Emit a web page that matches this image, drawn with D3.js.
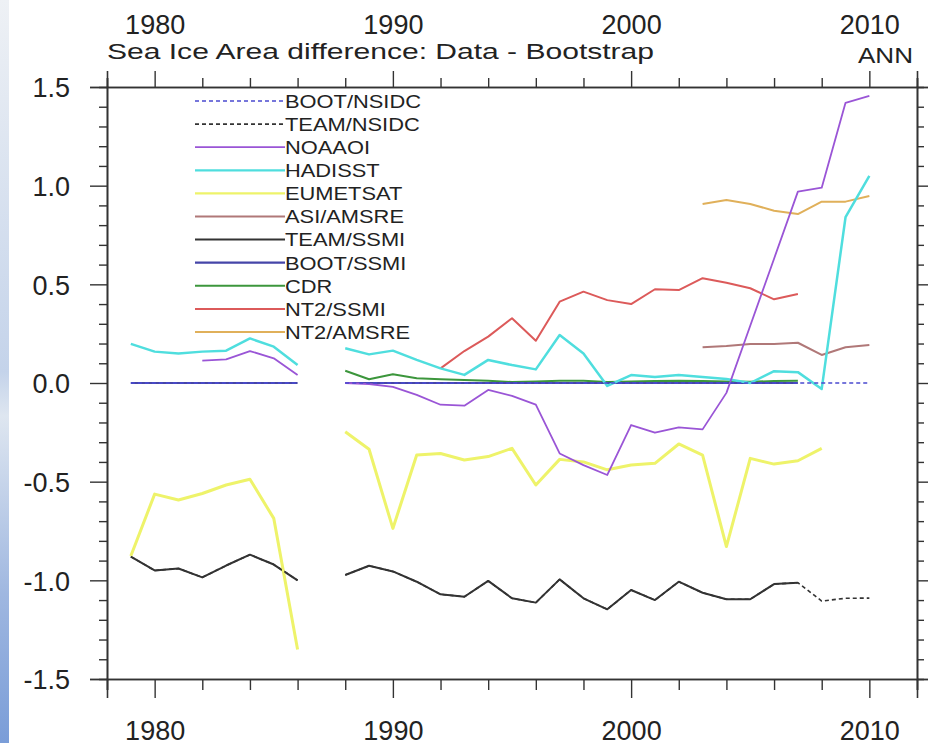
<!DOCTYPE html>
<html>
<head>
<meta charset="utf-8">
<script src="https://cdn.jsdelivr.net/npm/d3@7"></script>
<style>
  body { margin: 0; background: #fff; }
  svg text { font-family: "Liberation Sans", Arial, sans-serif; fill: #222; }
</style>
</head>
<body>
<svg id="svg"></svg>
<script>
// annual sea ice area difference vs Bootstrap, 1979-2010 (1987 missing)
const years = d3.range(1979, 2011);

const bootNsidc = [0, 0, 0, 0, 0, 0, 0, 0, null, 0, 0, 0, 0, 0, 0, 0, 0, 0, 0, 0, 0, 0, 0, 0, 0, 0, 0, 0, 0, 0, 0, 0];
const teamNsidc = [-0.88, -0.95, -0.94, -0.985, -0.925, -0.87, -0.92, -1.0, null,
  -0.973, -0.926, -0.955, -1.007, -1.071, -1.083, -1.003, -1.091, -1.113, -0.995, -1.091, -1.147,
  -1.049, -1.10, -1.007, -1.063, -1.096, -1.096, -1.019, -1.012, -1.105, -1.091, -1.09];
const noaaoi = [null, null, null, 0.113, 0.12, 0.162, 0.125, 0.04, null,
  0.0, -0.005, -0.02, -0.06, -0.11, -0.115, -0.035, -0.065, -0.11, -0.357, -0.416, -0.466,
  -0.213, -0.252, -0.225, -0.235, -0.05, 0.29, 0.63, 0.97, 0.99, 1.42, 1.455];
const hadisst = [0.198, 0.159, 0.15, 0.159, 0.164, 0.226, 0.184, 0.091, null,
  0.176, 0.145, 0.164, 0.117, 0.074, 0.041, 0.117, 0.091, 0.069, 0.243, 0.15, -0.015,
  0.04, 0.03, 0.04, 0.03, 0.02, 0.0, 0.06, 0.055, -0.03, 0.84, 1.05];
const eumetsat = [-0.877, -0.563, -0.593, -0.56, -0.517, -0.488, -0.686, -1.35, null,
  -0.247, -0.336, -0.737, -0.365, -0.357, -0.39, -0.373, -0.331, -0.517, -0.387, -0.40, -0.44,
  -0.416, -0.407, -0.309, -0.365, -0.829, -0.382, -0.411, -0.394, -0.331, null, null];
const asiAmsre = [null, null, null, null, null, null, null, null, null,
  null, null, null, null, null, null, null, null, null, null, null, null,
  null, null, null, 0.181, 0.188, 0.198, 0.198, 0.204, 0.142, 0.181, 0.193];
const teamSsmi = [-0.88, -0.95, -0.94, -0.985, -0.925, -0.87, -0.92, -1.0, null,
  -0.973, -0.926, -0.955, -1.007, -1.071, -1.083, -1.003, -1.091, -1.113, -0.995, -1.091, -1.147,
  -1.049, -1.10, -1.007, -1.063, -1.096, -1.096, -1.019, -1.012, null, null, null];
const bootSsmi = [0, 0, 0, 0, 0, 0, 0, 0, null, 0, 0, 0, 0, 0, 0, 0, 0, 0, 0, 0, 0, 0, 0, 0, 0, 0, 0, 0, 0, null, null, null];
const cdr = [null, null, null, null, null, null, null, null, null,
  0.062, 0.019, 0.044, 0.024, 0.019, 0.015, 0.012, 0.005, 0.008, 0.012, 0.012, 0.005,
  0.008, 0.01, 0.012, 0.01, 0.008, 0.006, 0.01, 0.012, null, null, null];
const nt2Ssmi = [null, null, null, null, null, null, null, null, null,
  null, null, null, null, 0.074, 0.162, 0.235, 0.328, 0.214, 0.412, 0.463, 0.42,
  0.40, 0.475, 0.471, 0.531, 0.508, 0.48, 0.424, 0.451, null, null, null];
const nt2Amsre = [null, null, null, null, null, null, null, null, null,
  null, null, null, null, null, null, null, null, null, null, null, null,
  null, null, null, 0.907, 0.927, 0.907, 0.873, 0.856, 0.919, 0.919, 0.948];

const seriesNames = ['BOOT/NSIDC', 'TEAM/NSIDC', 'NOAAOI', 'HADISST', 'EUMETSAT', 'ASI/AMSRE',
  'TEAM/SSMI', 'BOOT/SSMI', 'CDR', 'NT2/SSMI', 'NT2/AMSRE'];
const seriesValues = [bootNsidc, teamNsidc, noaaoi, hadisst, eumetsat, asiAmsre,
  teamSsmi, bootSsmi, cdr, nt2Ssmi, nt2Amsre];
const seriesColors = ['#4a4ad0', '#333333', '#9a55d6', '#4fdede', '#eef36a', '#b07878',
  '#333333', '#4545a8', '#3c963c', '#dc5a5a', '#e0b05a'];
const seriesDashed = [true, true, false, false, false, false, false, false, false, false, false];
const seriesWidth = [1.6, 1.6, 1.8, 2.5, 3, 2, 2, 2.2, 2, 2, 2];

const xMajor = [1980, 1990, 2000, 2010];
const yMajor = [-1.5, -1.0, -0.5, 0.0, 0.5, 1.0, 1.5];

const width = 929;
const height = 743;

const svg = d3.select('#svg')
  .attr('width', width)
  .attr('height', height);

// slide background strip on the left
const defs = svg.append('defs');
const grad = defs.append('linearGradient')
  .attr('id', 'strip')
  .attr('x1', 0).attr('y1', 0).attr('x2', 0).attr('y2', 1);
[[0, '#eef1f5'], [0.5, '#c4d3ea'], [0.56, '#dee6f0'], [0.8, '#9fb7e0'], [1, '#7a9dd8']]
  .forEach(s => grad.append('stop').attr('offset', s[0]).attr('stop-color', s[1]));
svg.append('rect')
  .attr('x', 0).attr('y', 0)
  .attr('width', 9).attr('height', height)
  .attr('fill', 'url(#strip)');

const xScale = d3.scaleLinear()
  .domain([1978, 2012])
  .range([107, 917]);

const yScale = d3.scaleLinear()
  .domain([-1.5, 1.5])
  .range([679, 87]);

const xMinor = d3.range(1978, 2013, 2).filter(d => !xMajor.includes(d));
const yMinor = d3.range(-15, 16).map(d => d / 10).filter(d => !yMajor.some(m => Math.abs(m - d) < 1e-9));

// axes: major and minor ticks drawn separately
function axisPair(axisFn, scale, major, minor, bigLen, smallLen, pos, showLabels, fmt) {
  const gMinor = svg.append('g')
    .attr('class', 'axis')
    .attr('transform', pos)
    .call(axisFn(scale).tickValues(minor).tickSize(smallLen).tickFormat(''));
  const gMajor = svg.append('g')
    .attr('class', 'axis')
    .attr('transform', pos)
    .call(axisFn(scale).tickValues(major).tickSize(bigLen).tickFormat(showLabels ? fmt : ''));
  [gMinor, gMajor].forEach(g => {
    g.select('.domain').attr('stroke', '#333').attr('stroke-width', 1.6);
    g.selectAll('.tick line').attr('stroke', '#333').attr('stroke-width', 1.4);
  });
  return gMajor;
}

const bottomAx = axisPair(d3.axisBottom, xScale, xMajor, xMinor, 19, 11, 'translate(0,679)', true, d3.format('d'));
bottomAx.selectAll('.tick text')
  .attr('font-size', '27px')
  .attr('y', 61)
  .attr('dy', 0);

const topAx = axisPair(d3.axisTop, xScale, xMajor, xMinor, 16, 9, 'translate(0,87)', true, d3.format('d'));
topAx.selectAll('.tick text')
  .attr('font-size', '27px')
  .attr('y', -53)
  .attr('dy', 0);

const leftAx = axisPair(d3.axisLeft, yScale, yMajor, yMinor, 17, 8, 'translate(107,0)', true, d3.format('.1f'));
leftAx.selectAll('.tick text')
  .attr('font-size', '27px')
  .attr('x', -37)
  .attr('dy', '0.36em')
  .text(d => d3.format('.1f')(d).replace('−', '-'));

axisPair(d3.axisRight, yScale, yMajor, yMinor, 11, 7, 'translate(917,0)', false, null);

svg.selectAll('.axis .tick text').attr('fill', '#222').attr('font-family', '"Liberation Sans", Arial, sans-serif');

// title and season label
svg.append('text')
  .attr('x', 107)
  .attr('y', 59)
  .attr('font-size', '22px')
  .attr('textLength', 547)
  .attr('lengthAdjust', 'spacingAndGlyphs')
  .text('Sea Ice Area difference: Data - Bootstrap');

svg.append('text')
  .attr('x', 913)
  .attr('y', 63)
  .attr('text-anchor', 'end')
  .attr('font-size', '22px')
  .attr('textLength', 55)
  .attr('lengthAdjust', 'spacingAndGlyphs')
  .text('ANN');

// lines
const line = d3.line()
  .defined(d => d.v !== null)
  .x(d => xScale(d.year))
  .y(d => yScale(d.v));

const plot = svg.append('g');
for (let i = seriesNames.length - 1; i >= 0; i--) {
  const pts = years.map((yr, j) => ({ year: yr, v: seriesValues[i][j] }));
  plot.append('path')
    .datum(pts)
    .attr('d', line)
    .attr('fill', 'none')
    .attr('stroke', seriesColors[i])
    .attr('stroke-width', seriesWidth[i])
    .attr('stroke-linejoin', 'round')
    .attr('stroke-dasharray', seriesDashed[i] ? '4,3' : null);
}

// legend
const legend = svg.append('g').attr('transform', 'translate(195,101)');
seriesNames.forEach((name, i) => {
  const row = legend.append('g').attr('transform', `translate(0,${i * 23.1})`);
  row.append('line')
    .attr('x1', 0).attr('x2', 90)
    .attr('y1', 0).attr('y2', 0)
    .attr('stroke', seriesColors[i])
    .attr('stroke-width', Math.min(seriesWidth[i], 2.2))
    .attr('stroke-dasharray', seriesDashed[i] ? '4,3' : null);
  row.append('text')
    .attr('transform', 'translate(90,0) scale(1.15,1)')
    .attr('dy', '0.36em')
    .attr('font-size', '19px')
    .text(name);
});
</script>
</body>
</html>
